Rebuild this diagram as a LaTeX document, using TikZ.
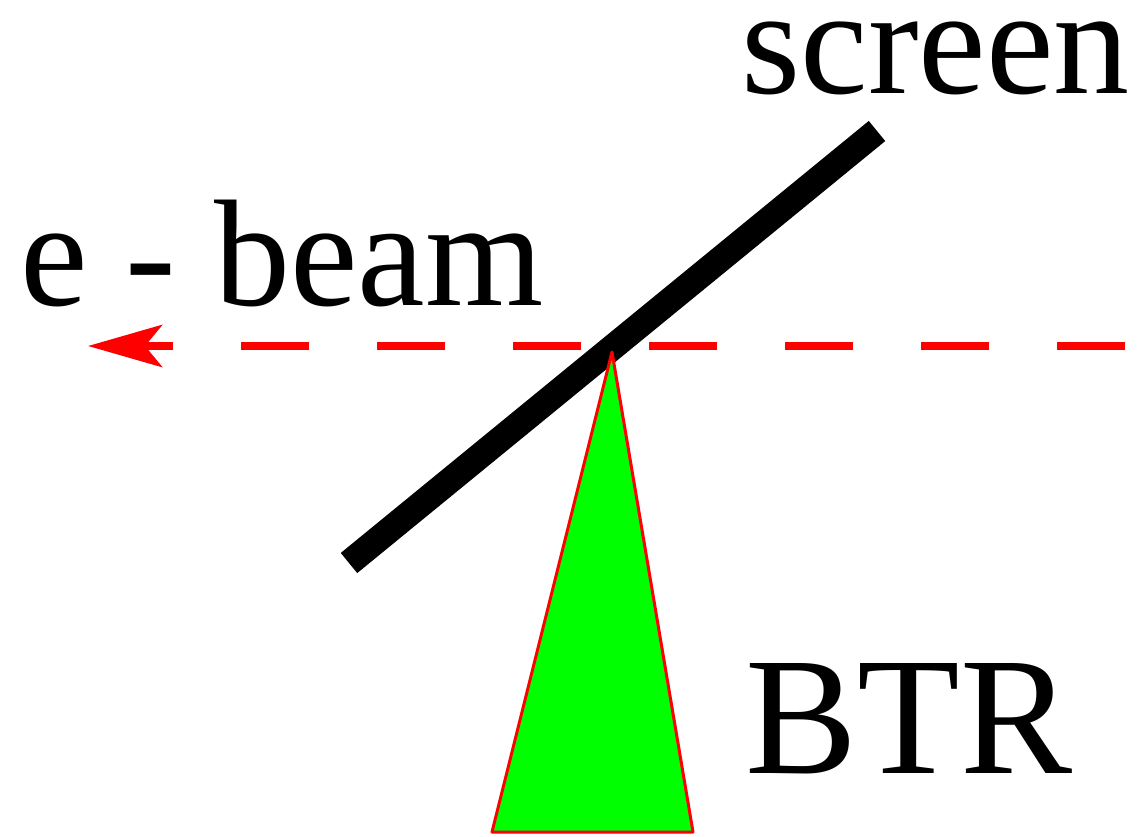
\documentclass[tikz,border=0pt]{standalone}
\usepackage{fontspec}
\setmainfont{Liberation Serif}
\usetikzlibrary{arrows.meta}

\begin{document}
\begin{tikzpicture}[
  x=0.5pt, y=-0.5pt,
  lbl/.style={anchor=base west, inner sep=0pt, font=\fontsize{76}{80}\selectfont},
  plate/.style={line width=13pt, black},
  beam/.style={draw=red, line width=4pt, dash pattern=on 34pt off 34pt,
               -{Stealth[length=37pt, width=21pt, inset=8.5pt, fill=red]}},
  cone/.style={draw=red, line width=1.5pt, fill=green, line join=round}]
\useasboundingbox (0,0) rectangle (1141,836);
% screen
\coordinate (s1) at (349,563);
\coordinate (s2) at (877,131);
\draw[plate] (s1) -- (s2);
% electron beam, runs right to left
\coordinate (bin) at (1125,346);
\coordinate (bout) at (88,346);
\draw[beam] (bin) -- (bout);
% backward transition radiation
\coordinate (apex) at (612,352);
\coordinate (bl) at (492,832);
\coordinate (br) at (693,832);
\draw[cone] (apex) -- (br) -- (bl) -- cycle;
% labels
\node[lbl] (scr) at (741,93) {screen};
\node[lbl] (eb) at (20,305) {e - beam};
\node[lbl, font=\fontsize{84}{88}\selectfont] (btr) at (745,773) {BTR};
\end{tikzpicture}
\end{document}
